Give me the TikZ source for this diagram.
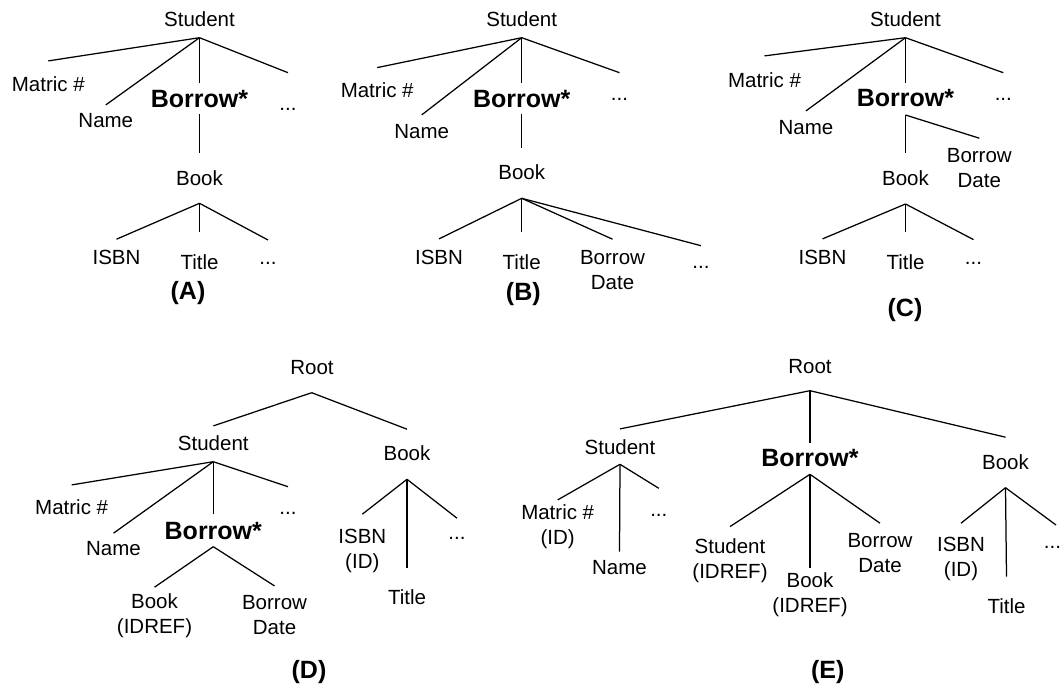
\documentclass[tikz,border=0pt]{standalone}
\usepackage{fontspec}
\setmainfont{Liberation Sans}
\newcommand{\twoln}[2]{\begin{tabular}[t]{@{}c@{}}#1\\#2\end{tabular}}
\begin{document}
\begin{tikzpicture}[x=1pt,y=-1pt,
  lbl/.style={font=\fontsize{20.5}{25}\selectfont, inner sep=0pt, outer sep=0pt,
              anchor=base, text height=14.7pt, text depth=0pt},
  bold/.style={font=\fontsize{25}{30}\selectfont\bfseries, inner sep=0pt, outer sep=0pt,
               anchor=base, text height=17.9pt, text depth=0pt},
  panel/.style={font=\fontsize{25}{30}\selectfont\bfseries, inner sep=0pt, anchor=base},
  branch/.style={line width=1.25pt, black}]
\useasboundingbox (0,0) rectangle (1062,687);

% ---------- (A) ----------
\node[lbl] (sA) at (199.5,26.3) {Student};
\coordinate (sAj) at (199.5,37.7);
\node[lbl] (mA) at (48.3,91.3) {Matric \#};
\node[lbl] (nA) at (105.8,127.3) {Name};
\node[bold] (bA) at (199.5,108) {Borrow*};
\node[lbl] (dA) at (288,111) {...};
\node[lbl] (kA) at (199.5,185.3) {Book};
\coordinate (kAj) at (199.5,203.3);
\node[lbl] (iA) at (116.5,264) {ISBN};
\node[lbl] (tA) at (199.5,269) {Title};
\node[lbl] (eA) at (268,264) {...};
\node[panel] (capA) at (188,299.5) {(A)};
\draw[branch] (sAj) -- ([yshift=15.7pt]mA.north);
\draw[branch] (sAj) -- ([yshift=7.7pt]nA.north);
\draw[branch] (sAj) -- ([yshift=7.3pt]bA.north);
\draw[branch] (sAj) -- ([yshift=23.6pt]dA.north);
\draw[branch] ([yshift=-6pt]bA.south) -- ([yshift=17.7pt]kA.north);
\draw[branch] (kAj) -- ([yshift=10.1pt]iA.north);
\draw[branch] (kAj) -- ([yshift=22.1pt]tA.north);
\draw[branch] (kAj) -- ([yshift=9.3pt]eA.north);

% ---------- (B) ----------
\node[lbl] (sB) at (521.7,26.3) {Student};
\coordinate (sBj) at (521.7,37.7);
\node[lbl] (mB) at (377.2,98) {Matric \#};
\node[lbl] (nB) at (421.7,138.3) {Name};
\node[bold] (bB) at (521.7,107.3) {Borrow*};
\node[lbl] (dB) at (619.5,101) {...};
\node[lbl] (kB) at (521.7,179.6) {Book};
\coordinate (kBj) at (521.7,198.3);
\node[lbl] (iB) at (439,264) {ISBN};
\node[lbl] (tB) at (521.7,269) {Title};
\node[lbl] (bdB) at (612.5,264) {\twoln{Borrow}{Date}};
\node[lbl] (eB) at (701,268) {...};
\node[panel] (capB) at (523.3,300.5) {(B)};
\draw[branch] (sBj) -- ([yshift=15.7pt]mB.north);
\draw[branch] (sBj) -- ([yshift=8.7pt]nB.north);
\draw[branch] (sBj) -- ([yshift=6.6pt]bB.north);
\draw[branch] (sBj) -- ([yshift=13.6pt]dB.north);
\draw[branch] ([yshift=-6.7pt]bB.south) -- ([yshift=17.3pt]kB.north);
\draw[branch] (kBj) -- ([yshift=10.4pt]iB.north);
\draw[branch] (kBj) -- ([yshift=22.1pt]tB.north);
\draw[branch] (kBj) -- ([yshift=10.1pt]bdB.north);
\draw[branch] (kBj) -- ([yshift=7.6pt]eB.north);

% ---------- (C) ----------
\node[lbl] (sC) at (905.5,26.3) {Student};
\coordinate (sCj) at (905.5,37.7);
\node[lbl] (mC) at (764.5,87.3) {Matric \#};
\node[lbl] (nC) at (806,134.6) {Name};
\node[bold] (bC) at (905.5,106.7) {Borrow*};
\node[lbl] (dC) at (1003.3,100.5) {...};
\coordinate (bCj) at (905.5,115);
\node[lbl] (kC) at (905.5,185.6) {Book};
\node[lbl] (bdC) at (979.3,162.3) {\twoln{Borrow}{Date}};
\coordinate (kCj) at (905.5,204);
\node[lbl] (iC) at (822.5,264) {ISBN};
\node[lbl] (tC) at (905.5,269) {Title};
\node[lbl] (eC) at (973.5,264) {...};
\node[panel] (capC) at (905,316) {(C)};
\draw[branch] (sCj) -- ([yshift=16.7pt]mC.north);
\draw[branch] (sCj) -- ([yshift=9pt]nC.north);
\draw[branch] (sCj) -- ([yshift=6pt]bC.north);
\draw[branch] (sCj) -- ([yshift=13.1pt]dC.north);
\draw[branch] (bCj) -- ([yshift=17.7pt]kC.north);
\draw[branch] (bCj) -- ([yshift=9.4pt]bdC.north);
\draw[branch] (kCj) -- ([yshift=10.4pt]iC.north);
\draw[branch] (kCj) -- ([yshift=22.1pt]tC.north);
\draw[branch] (kCj) -- ([yshift=9.7pt]eC.north);

% ---------- (D) ----------
\node[lbl] (rD) at (312,374.6) {Root};
\coordinate (rDj) at (311.7,392.7);
\node[lbl] (sD) at (213.3,450) {Student};
\node[lbl] (kD) at (407,460) {Book};
\coordinate (sDj) at (213.3,461.7);
\node[lbl] (mD) at (71.7,514.6) {Matric \#};
\node[lbl] (nD) at (113.5,555.6) {Name};
\node[bold] (bD) at (213.3,539) {Borrow*};
\node[lbl] (dD) at (288,514.5) {...};
\coordinate (bDj) at (213.3,546.7);
\node[lbl] (bkD) at (154.5,608) {\twoln{Book}{(IDREF)}};
\node[lbl] (bdD) at (274.5,609.6) {\twoln{Borrow}{Date}};
\coordinate (kDj) at (407,479.3);
\node[lbl] (iD) at (362.3,543) {\twoln{ISBN}{(ID)}};
\node[lbl] (tD) at (407,604) {Title};
\node[lbl] (eD) at (457,539.5) {...};
\node[panel] (capD) at (309,678) {(D)};
\draw[branch] (rDj) -- ([yshift=9.4pt]sD.north);
\draw[branch] (rDj) -- ([yshift=16.1pt]kD.north);
\draw[branch] (sDj) -- ([yshift=15pt]mD.north);
\draw[branch] (sDj) -- ([yshift=7.7pt]nD.north);
\draw[branch] (sDj) -- ([yshift=7pt]bD.north);
\draw[branch] (sDj) -- ([yshift=13.1pt]dD.north);
\draw[branch] (bDj) -- ([yshift=6.1pt]bkD.north);
\draw[branch] (bDj) -- ([yshift=9pt]bdD.north);
\draw[branch] (kDj) -- ([yshift=14.1pt]iD.north);
\draw[branch] (kDj) -- ([yshift=21.1pt]tD.north);
\draw[branch] (kDj) -- ([yshift=6.6pt]eD.north);

% ---------- (E) ----------
\node[lbl] (rE) at (810,373) {Root};
\coordinate (rEj) at (810,390.7);
\node[lbl] (sE) at (620,454) {Student};
\node[bold] (bE) at (810,466.3) {Borrow*};
\node[lbl] (kE) at (1005.5,469.6) {Book};
\coordinate (sEj) at (620,464.3);
\node[lbl] (mE) at (557.7,519) {\twoln{Matric \#}{(ID)}};
\node[lbl] (nE) at (619.5,574.6) {Name};
\node[lbl] (dE) at (658.8,516) {...};
\coordinate (bEj) at (810,474.3);
\node[lbl] (siE) at (730,553.3) {\twoln{Student}{(IDREF)}};
\node[lbl] (bkE) at (810,587.3) {\twoln{Book}{(IDREF)}};
\node[lbl] (bdE) at (880,547.3) {\twoln{Borrow}{Date}};
\coordinate (kEj) at (1005.5,487.7);
\node[lbl] (iE) at (961,551.6) {\twoln{ISBN}{(ID)}};
\node[lbl] (tE) at (1006.5,613) {Title};
\node[lbl] (eE) at (1052.5,548) {...};
\node[panel] (capE) at (827.7,678) {(E)};
\draw[branch] (rEj) -- ([yshift=10.4pt]sE.north);
\draw[branch] (rEj) -- ([yshift=5.7pt]bE.north);
\draw[branch] (rEj) -- ([yshift=17.7pt]kE.north);
\draw[branch] (sEj) -- ([yshift=4.4pt]mE.north);
\draw[branch] (sEj) -- ([yshift=8.3pt]nE.north);
\draw[branch] (sEj) -- ([yshift=13pt]dE.north);
\draw[branch] (bEj) -- ([yshift=12pt]siE.north);
\draw[branch] (bEj) -- ([yshift=5pt]bkE.north);
\draw[branch] (bEj) -- ([yshift=9.4pt]bdE.north);
\draw[branch] (kEj) -- ([yshift=13.7pt]iE.north);
\draw[branch] (kEj) -- ([yshift=21.7pt]tE.north);
\draw[branch] (kEj) -- ([xshift=3.5pt,yshift=8.3pt]eE.north);
\end{tikzpicture}
\end{document}
